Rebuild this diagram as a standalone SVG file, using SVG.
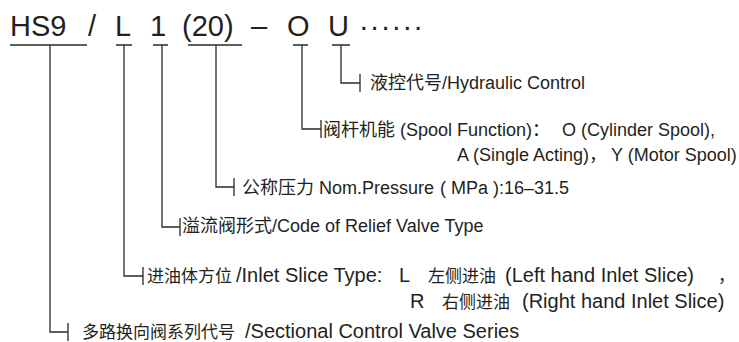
<svg xmlns="http://www.w3.org/2000/svg" width="739" height="342" viewBox="0 0 739 342">
<style>
.t{font-family:"Liberation Sans","Noto Sans CJK SC",Arial,sans-serif;font-size:18px;fill:#231f20}
.b{font-family:"Liberation Sans","Noto Sans CJK SC",Arial,sans-serif;font-size:20px;fill:#231f20}
.k{font-family:"Noto Sans CJK SC",sans-serif;font-size:17px;fill:#231f20}
.h{font-family:"Liberation Sans",Arial,sans-serif;font-size:29px;fill:#231f20}
.c{stroke:#2a2a2a;stroke-width:1.3;fill:none}
</style>
<rect width="739" height="342" fill="#ffffff"/>
<g id="code">
<text class="h" x="10" y="36">HS9</text>
<text class="h" x="88" y="36">/</text>
<text class="h" x="115" y="36">L</text>
<text class="h" x="158" y="36" text-anchor="middle">1</text>
<text class="h" x="182" y="36">(20)</text>
<text class="h" x="251" y="36">–</text>
<text class="h" x="287" y="36">O</text>
<text class="h" x="328" y="36">U</text>
<text class="h" x="359" y="36" letter-spacing="1.2">······</text>
</g>
<g id="connectors" class="c">
<path d="M10 45H87M116 45H132M153 45H168M188 45H242M293 45H308M332 45H350"/>
<path d="M50 45V332H68M68 323V341"/>
<path d="M124 45V276H143M143 267V285"/>
<path d="M162 45V227H180M180 218V236"/>
<path d="M216 45V187H234M234 178V196"/>
<path d="M302 45V129H321M321 120V138"/>
<path d="M341 45V83H360M360 74V92"/>
</g>
<g id="hydraulic-control">
<text class="t" x="370" y="88.5">液控代号/Hydraulic Control</text>
</g>
<g id="spool-function">
<text class="t" x="323" y="135.5">阀杆机能 (Spool Function)：</text>
<text class="t" x="562" y="135.5">O (Cylinder Spool),</text>
<text class="t" x="457" y="161">A (Single Acting)，</text>
<text class="t" x="611" y="161">Y (Motor Spool)</text>
</g>
<g id="nom-pressure">
<text class="t" x="242" y="194">公称压力 Nom.Pressure</text>
<text class="t" x="440" y="194">( MPa ):16–31.5</text>
</g>
<g id="relief-valve">
<text class="t" x="182" y="232" font-size="18.5">溢流阀形式/Code of Relief Valve Type</text>
</g>
<g id="inlet-slice">
<text class="k" x="147" y="282">进油体方位</text>
<text class="b" x="236" y="282">/Inlet Slice Type:</text>
<text class="b" x="399" y="282">L</text>
<text class="k" x="428" y="282">左侧进油</text>
<text class="b" x="505" y="282">(Left hand Inlet Slice)</text>
<text class="k" x="718" y="282">，</text>
<text class="b" x="410" y="308">R</text>
<text class="k" x="442" y="308">右侧进油</text>
<text class="b" x="522" y="308">(Right hand Inlet Slice)</text>
</g>
<g id="series">
<text class="k" x="82" y="338">多路换向阀系列代号</text>
<text class="b" x="245" y="338" font-size="21">/Sectional Control Valve Series</text>
</g>
</svg>
